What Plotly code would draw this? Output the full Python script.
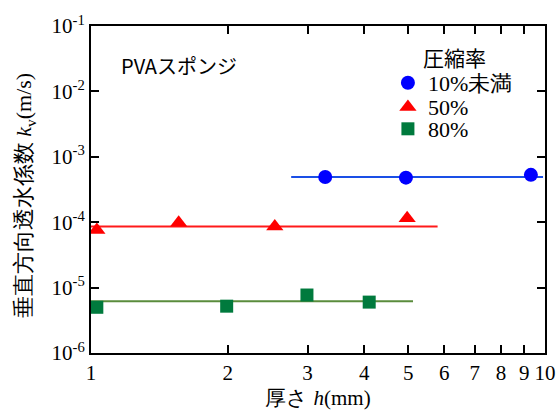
import plotly.graph_objects as go

# data
h_10 = [3.28, 4.94, 9.31]
kv_10 = [4.9e-4, 4.8e-4, 5.3e-4]
h_50 = [1.03, 1.56, 2.54, 4.97]
kv_50 = [7.6e-5, 9.8e-5, 8.6e-5, 1.15e-4]
h_80 = [1.03, 1.99, 2.99, 4.1]
kv_80 = [5.0e-6, 5.2e-6, 7.7e-6, 6.0e-6]

fit_10_x = [2.76, 9.9]
fit_10_y = [4.9e-4, 4.9e-4]
fit_50_x = [1.0, 5.8]
fit_50_y = [8.6e-5, 8.6e-5]
fit_80_x = [1.0, 5.12]
fit_80_y = [6.2e-6, 6.2e-6]

x_ticks = [1, 2, 3, 4, 5, 6, 7, 8, 9, 10]
x_tick_text = ["1", "2", "3", "4", "5", "6", "7", "8", "9", "10"]
y_ticks = [1e-6, 1e-5, 1e-4, 1e-3, 1e-2, 1e-1]
y_tick_text = ["10<sup>-6</sup>", "10<sup>-5</sup>", "10<sup>-4</sup>",
               "10<sup>-3</sup>", "10<sup>-2</sup>", "10<sup>-1</sup>"]

serif = "'Liberation Serif', 'Times New Roman', serif"
sans = "'Noto Sans CJK JP', sans-serif"

fig = go.Figure()
fig.add_trace(go.Scatter(x=fit_10_x, y=fit_10_y, mode="lines",
                         line=dict(color="#1a4fe6", width=2), showlegend=False))
fig.add_trace(go.Scatter(x=fit_50_x, y=fit_50_y, mode="lines",
                         line=dict(color="#ff1a1a", width=2), showlegend=False))
fig.add_trace(go.Scatter(x=fit_80_x, y=fit_80_y, mode="lines",
                         line=dict(color="#5a8c3c", width=2), showlegend=False))

fig.add_trace(go.Scatter(x=h_10, y=kv_10, mode="markers", name="10%未満", legend="legend",
                         marker=dict(symbol="circle", size=14, color="#0000ff")))
fig.add_trace(go.Scatter(x=h_50, y=kv_50, mode="markers", name="50%", legend="legend2",
                         marker=dict(symbol="triangle-up", size=15, color="#ff0000")))
fig.add_trace(go.Scatter(x=h_80, y=kv_80, mode="markers", name="80%", legend="legend3",
                         marker=dict(symbol="square", size=13, color="#007a3d")))

axis_common = dict(showline=True, linecolor="black", linewidth=2, mirror="ticks",
                   ticks="inside", ticklen=8, tickwidth=1.5, tickcolor="black",
                   showgrid=False, zeroline=False, automargin=False,
                   tickfont=dict(family=serif, size=21, color="black"))

fig.update_xaxes(type="log", range=[0, 1], tickvals=x_ticks, ticktext=x_tick_text,
                 title=dict(text="厚さ <i>h</i>(mm)", font=dict(family=serif, size=21, color="black"),
                            standoff=6),
                 **axis_common)
fig.update_yaxes(type="log", range=[-6, -1], tickvals=y_ticks, ticktext=y_tick_text,
                 **axis_common)

# y-axis title
fig.add_annotation(x=-0.145, y=0.48, xref="paper", yref="paper", xanchor="center", yanchor="middle",
                   text="垂直方向透水係数 <i>k</i><sub>v</sub>(m/s)", textangle=-90, showarrow=False,
                   font=dict(family=serif, size=22, color="black"))

fig.add_annotation(x=0.062, y=0.88, xref="paper", yref="paper", xanchor="left", yanchor="middle",
                   text="PVAスポンジ", showarrow=False,
                   font=dict(family=sans, size=20, color="black"))
fig.add_annotation(x=0.80, y=0.905, xref="paper", yref="paper", xanchor="center", yanchor="middle",
                   text="圧縮率", showarrow=False,
                   font=dict(family=sans, size=21, color="black"))

leg_common = dict(x=0.654, xanchor="left", yanchor="middle",
                  font=dict(family=serif, size=22, color="black"),
                  bgcolor="rgba(0,0,0,0)", itemwidth=30)

fig.update_layout(
    width=558, height=412,
    margin=dict(l=91, r=13, t=26, b=59),
    plot_bgcolor="white", paper_bgcolor="white",
    legend=dict(y=0.826, **leg_common),
    legend2=dict(y=0.752, **leg_common),
    legend3=dict(y=0.685, **leg_common),
)

fig.write_html("out.html", config={"displayModeBar": False},
               post_script="document.body.style.margin='0';document.body.style.overflow='hidden';")
